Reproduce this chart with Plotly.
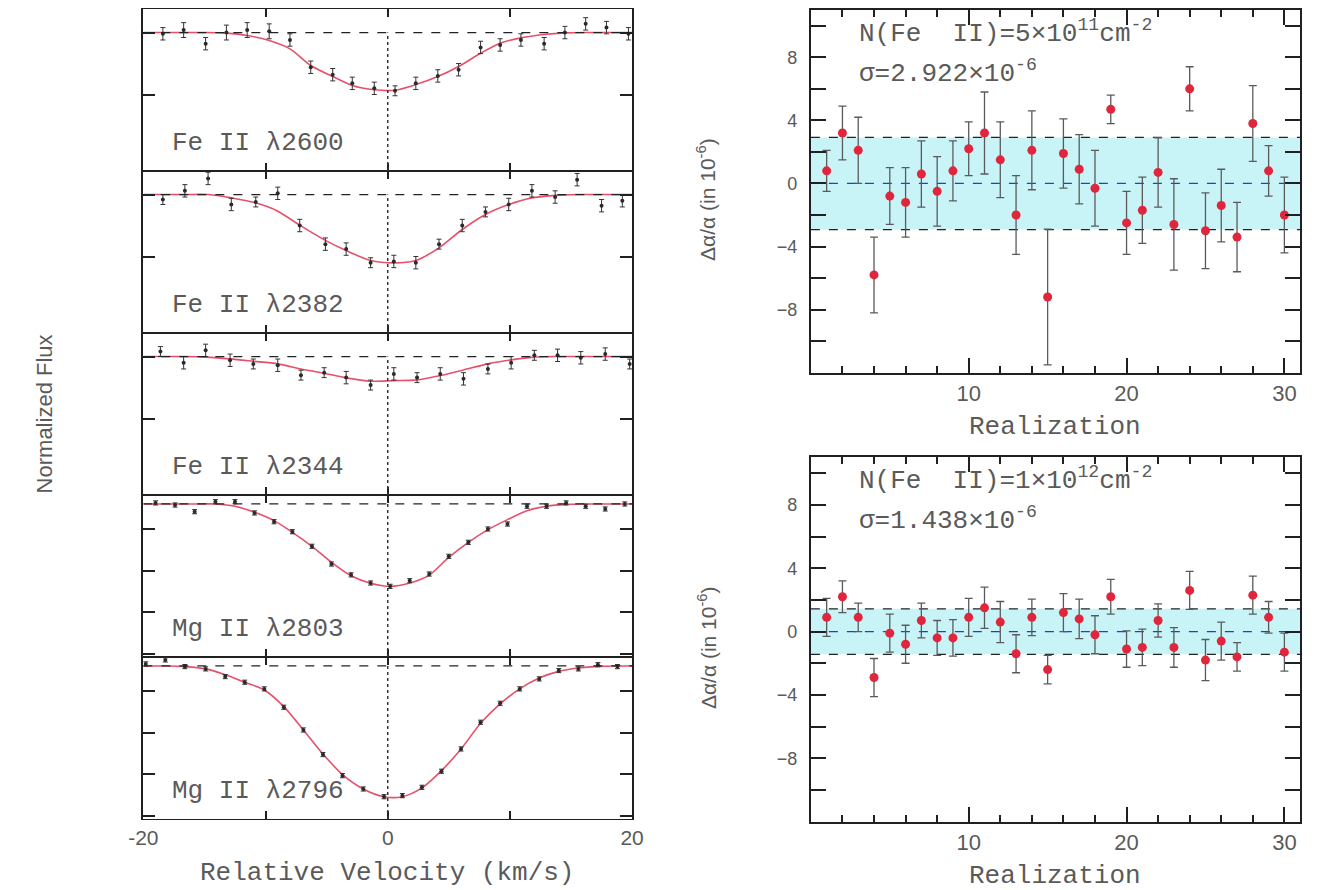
import plotly.graph_objects as go

W, H = 1320, 890

# ---------------- data: left column (normalized flux vs velocity) ----------------
vel_2600 = [-18.4, -16.7, -14.9, -13.2, -11.5, -9.7, -8.0, -6.3, -4.5, -2.9, -1.1, 0.6,
            2.3, 4.1, 5.8, 7.6, 9.2, 10.9, 12.8, 14.5, 16.2, 17.9, 19.7]
flux_2600 = [0.99, 1.02, 0.91, 1.00, 1.02, 1.01, 0.94, 0.72, 0.66, 0.59, 0.55, 0.53,
             0.59, 0.65, 0.70, 0.88, 0.90, 0.94, 0.91, 1.00, 1.07, 1.04, 0.99]
err_2600 = [0.05, 0.06, 0.05, 0.06, 0.06, 0.06, 0.05, 0.05, 0.05, 0.05, 0.05, 0.04,
            0.05, 0.05, 0.05, 0.05, 0.05, 0.05, 0.05, 0.05, 0.05, 0.05, 0.05]
model_2600 = [1.0, 1.0, 1.0, 0.995, 0.976, 0.935, 0.868, 0.734, 0.645, 0.573, 0.538, 0.535,
              0.58, 0.645, 0.726, 0.833, 0.914, 0.957, 0.984, 0.997, 1.0, 1.0, 1.0]

vel_2382 = [-18.4, -16.6, -14.7, -12.8, -10.8, -9.0, -7.2, -5.1, -3.4, -1.4, 0.5, 2.3,
            4.2, 6.1, 8.0, 9.9, 11.8, 13.7, 15.5, 17.5, 19.2]
flux_2382 = [0.96, 1.03, 1.13, 0.92, 0.94, 1.01, 0.75, 0.60, 0.56, 0.45, 0.46, 0.45,
             0.60, 0.75, 0.86, 0.92, 1.03, 0.98, 1.12, 0.91, 0.95]
err_2382 = [0.04, 0.05, 0.05, 0.05, 0.04, 0.05, 0.05, 0.05, 0.05, 0.04, 0.05, 0.05,
            0.04, 0.05, 0.04, 0.05, 0.05, 0.05, 0.05, 0.05, 0.05]
model_2382 = [1.0, 1.0, 1.0, 0.973, 0.933, 0.866, 0.753, 0.63, 0.548, 0.468, 0.449, 0.468,
              0.57, 0.718, 0.839, 0.919, 0.973, 0.992, 1.0, 1.0, 1.0]

vel_2344 = [-18.6, -16.7, -14.9, -12.9, -11.0, -9.0, -7.1, -5.2, -3.4, -1.4, 0.5, 2.4,
            4.3, 6.2, 8.2, 10.1, 12.0, 13.9, 15.8, 17.8, 19.8]
flux_2344 = [1.04, 0.95, 1.05, 0.97, 0.94, 0.93, 0.85, 0.87, 0.83, 0.77, 0.86, 0.83,
             0.86, 0.82, 0.90, 0.95, 1.01, 1.01, 0.99, 1.02, 0.94]
err_2344 = [0.04, 0.05, 0.05, 0.05, 0.04, 0.05, 0.04, 0.04, 0.05, 0.04, 0.05, 0.04,
            0.05, 0.05, 0.04, 0.05, 0.04, 0.05, 0.05, 0.05, 0.04]
model_2344 = [1.0, 1.0, 0.995, 0.981, 0.962, 0.941, 0.90, 0.865, 0.828, 0.801, 0.806, 0.812,
              0.847, 0.892, 0.941, 0.973, 0.995, 1.0, 1.0, 1.0, 1.0]

vel_2803 = [-19.0, -17.4, -15.8, -14.1, -12.5, -10.9, -9.3, -7.8, -6.2, -4.6, -3.0, -1.4,
            0.2, 1.8, 3.4, 5.0, 6.6, 8.2, 9.8, 11.4, 13.0, 14.6, 16.2, 17.8, 19.4]
flux_2803 = [1.005, 0.995, 0.963, 1.011, 1.011, 0.957, 0.915, 0.867, 0.797, 0.712, 0.66, 0.621,
             0.605, 0.632, 0.664, 0.749, 0.816, 0.88, 0.904, 0.989, 0.989, 1.005, 0.989, 0.976, 1.0]
err_2803 = [0.01] * 25
model_2803 = [1.0, 1.0, 1.0, 1.0, 0.989, 0.96, 0.92, 0.864, 0.797, 0.72, 0.656, 0.62,
              0.605, 0.621, 0.659, 0.744, 0.816, 0.877, 0.925, 0.968, 0.989, 0.998, 1.0, 1.0, 1.0]

vel_2796 = [-19.8, -18.2, -16.6, -14.9, -13.3, -11.7, -10.1, -8.5, -6.9, -5.3, -3.7, -2.0,
            -0.3, 1.2, 2.8, 4.4, 6.0, 7.6, 9.2, 10.8, 12.4, 14.0, 15.6, 17.2, 18.8]
flux_2796 = [1.01, 1.029, 0.997, 0.986, 0.949, 0.922, 0.89, 0.802, 0.693, 0.575, 0.474, 0.41,
             0.373, 0.378, 0.418, 0.495, 0.602, 0.73, 0.821, 0.89, 0.938, 0.978, 0.986, 1.006, 0.997]
err_2796 = [0.01] * 25
model_2796 = [1.0, 1.0, 0.997, 0.986, 0.958, 0.922, 0.885, 0.805, 0.693, 0.578, 0.479, 0.41,
              0.373, 0.373, 0.415, 0.498, 0.602, 0.725, 0.818, 0.89, 0.942, 0.974, 0.99, 0.998, 1.0]

line_labels = ["Fe II λ2600", "Fe II λ2382", "Fe II λ2344", "Mg II λ2803", "Mg II λ2796"]
continuum = 1.0
vel_limits = [-20, 20]

# ---------------- data: right column (Δα/α per realization) ----------------
realization = list(range(1, 31))
da_5e11 = [0.8, 3.2, 2.1, -5.8, -0.8, -1.2, 0.6, -0.5, 0.8, 2.2, 3.2, 1.5, -2.0, 2.1, -7.2,
           1.9, 0.9, -0.3, 4.7, -2.5, -1.7, 0.7, -2.6, 6.0, -3.0, -1.4, -3.4, 3.8, 0.8, -2.0]
err_5e11 = [1.3, 1.7, 2.1, 2.4, 1.8, 2.2, 2.1, 2.2, 1.9, 1.7, 2.6, 2.4, 2.5, 2.5, 4.3,
            2.2, 2.2, 2.4, 0.9, 2.0, 2.1, 2.2, 2.9, 1.4, 2.4, 2.3, 2.2, 2.4, 1.6, 2.4]
sigma_5e11 = 2.922

da_1e12 = [0.9, 2.2, 0.9, -2.9, -0.1, -0.8, 0.7, -0.4, -0.4, 0.9, 1.5, 0.6, -1.4, 0.9, -2.4,
           1.2, 0.8, -0.2, 2.2, -1.1, -1.0, 0.7, -1.0, 2.6, -1.8, -0.6, -1.6, 2.3, 0.9, -1.3]
err_1e12 = [1.2, 1.0, 0.9, 1.2, 1.2, 1.2, 1.1, 1.1, 1.15, 1.2, 1.3, 1.3, 1.2, 1.15, 0.9,
            1.2, 1.25, 1.2, 1.1, 1.15, 1.15, 1.05, 1.25, 1.2, 1.3, 1.2, 0.9, 1.2, 1.0, 1.2]
sigma_1e12 = 1.438
mean_shift = 0.0

realization_ticks = [0, 10, 20, 30]
realization_ticktext = ["", "10", "20", "30"]
da_ticks = [-8, -4, 0, 4, 8]

# ---------------- layout helpers ----------------
def fx(p):
    return p / W

def fy(p):
    return 1 - p / H

def axname(letter, k):
    return letter if k == 1 else f"{letter}{k}"

TXT = "#5a5a5a"
FRAME = "#202020"
MONO = "Liberation Mono, Courier New, monospace"
SANS = "Liberation Sans, Arial, sans-serif"

FE_RANGE = [-0.117, 1.19]
MG_RANGE = [0.266, 1.043]

fig = go.Figure()

left_data = [
    (vel_2600, flux_2600, err_2600, model_2600, "fe"),
    (vel_2382, flux_2382, err_2382, model_2382, "fe"),
    (vel_2344, flux_2344, err_2344, model_2344, "fe"),
    (vel_2803, flux_2803, err_2803, model_2803, "mg"),
    (vel_2796, flux_2796, err_2796, model_2796, "mg"),
]

shapes = []
annotations = []
layout_axes = {}

panel_top0, panel_h = 9, 162
for i, (vel, flux, err, model, kind) in enumerate(left_data):
    k = i + 1
    xa, ya = axname("x", k), axname("y", k)
    top = panel_top0 + panel_h * i
    bot = top + panel_h
    yr = FE_RANGE if kind == "fe" else MG_RANGE

    fig.add_trace(go.Scatter(
        x=[vel_limits[0]] + vel + [vel_limits[1]],
        y=[continuum] + model + [continuum],
        mode="lines", line=dict(color="#e8506a", width=1.6, shape="spline", smoothing=0.8),
        xaxis=xa, yaxis=ya, showlegend=False, hoverinfo="skip"))
    fig.add_trace(go.Scatter(
        x=vel, y=flux, mode="markers",
        marker=dict(color="#2a2a2a", size=4),
        error_y=dict(type="data", array=err, color="#333333", thickness=1, width=2.5),
        xaxis=xa, yaxis=ya, showlegend=False))

    shapes.append(dict(type="line", xref=xa, yref=ya, x0=vel_limits[0], x1=vel_limits[1],
                       y0=continuum, y1=continuum,
                       line=dict(color="#222", width=1.2, dash="dash"), layer="above"))
    shapes.append(dict(type="line", xref=xa, yref=ya, x0=0, x1=0, y0=yr[0], y1=continuum,
                       line=dict(color="#333", width=1.5, dash="dot"), layer="above"))

    annotations.append(dict(text=line_labels[i], xref=xa, yref=f"{ya} domain",
                            x=-17.8, y=1 - 134 / panel_h, xanchor="left", yanchor="middle",
                            showarrow=False, font=dict(family=MONO, size=26, color=TXT)))

    layout_axes[axname("xaxis", k)] = dict(
        domain=[fx(131), fx(630)], anchor=ya, range=vel_limits,
        tickvals=[-20, -10, 0, 10, 20], ticktext=["-20", "", "0", "", "20"],
        showticklabels=(k == 5), ticks="inside", ticklen=8, tickwidth=1.5, tickcolor=FRAME,
        showline=True, linecolor=FRAME, linewidth=1, mirror="ticks",
        showgrid=False, zeroline=False,
        tickfont=dict(family=SANS, size=21, color=TXT))
    tv = [0.5, 1.0] if kind == "fe" else [0.28, 0.48, 0.68, 0.88]
    layout_axes[axname("yaxis", k)] = dict(
        domain=[fy(bot), fy(top)], anchor=xa, range=yr, tickvals=tv,
        showticklabels=False, ticks="inside", ticklen=12, tickwidth=1.5, tickcolor=FRAME,
        showline=True, linecolor=FRAME, linewidth=1.5, mirror="ticks",
        showgrid=False, zeroline=False)

right_data = [
    (da_5e11, err_5e11, sigma_5e11, 10, 372.7,
     "N(Fe  II)=5×10<sup>11</sup>cm<sup>-2</sup>", "σ=2.922×10<sup>-6</sup>"),
    (da_1e12, err_1e12, sigma_1e12, 457.3, 821.7,
     "N(Fe  II)=1×10<sup>12</sup>cm<sup>-2</sup>", "σ=1.438×10<sup>-6</sup>"),
]
for j, (vals, errs, sig, top, bot, t1, t2) in enumerate(right_data):
    k = 6 + j
    xa, ya = f"x{k}", f"y{k}"
    shapes.append(dict(type="rect", xref=f"{xa} domain", yref=ya, x0=0, x1=1,
                       y0=mean_shift - sig, y1=mean_shift + sig,
                       fillcolor="rgb(200,244,248)", line=dict(width=0), layer="below"))
    for yy, col in [(mean_shift + sig, "#222"), (mean_shift - sig, "#222"), (mean_shift, "#2340c0")]:
        shapes.append(dict(type="line", xref=f"{xa} domain", yref=ya, x0=0, x1=1, y0=yy, y1=yy,
                           line=dict(color=col, width=1.3, dash="dash"), layer="below"))
    fig.add_trace(go.Scatter(
        x=realization, y=vals, mode="markers",
        marker=dict(color="#e0263c", size=9),
        error_y=dict(type="data", array=errs, color="#5a5a5a", thickness=1.3, width=4),
        xaxis=xa, yaxis=ya, showlegend=False))

    annotations.append(dict(text=t1, xref="paper", yref="paper", x=fx(860), y=fy(top + 22),
                            xanchor="left", yanchor="middle", showarrow=False,
                            font=dict(family=MONO, size=26, color=TXT)))
    annotations.append(dict(text=t2, xref="paper", yref="paper", x=fx(860), y=fy(top + 62),
                            xanchor="left", yanchor="middle", showarrow=False,
                            font=dict(family=MONO, size=26, color=TXT)))
    annotations.append(dict(text="Realization", xref="paper", yref="paper",
                            x=fx(1062), y=fy(bot + 54), xanchor="center", yanchor="middle",
                            showarrow=False, font=dict(family=MONO, size=26, color=TXT)))
    annotations.append(dict(text="Δα/α (in 10<sup>-6</sup>)", xref="paper", yref="paper",
                            x=fx(706), y=fy((top + bot) / 2 + 8), xanchor="center",
                            yanchor="middle", textangle=-90, showarrow=False,
                            font=dict(family=SANS, size=21, color=TXT)))

    layout_axes[f"xaxis{k}"] = dict(
        domain=[fx(812.5), fx(1312)], anchor=ya, range=[0, 31],
        tickmode="array", tickvals=realization_ticks, ticktext=realization_ticktext,
        ticks="inside", ticklen=15, tickwidth=1.5, tickcolor=FRAME,
        minor=dict(tickmode="linear", dtick=2, tick0=0, ticks="inside", ticklen=7,
                   tickwidth=1.5, tickcolor=FRAME),
        showline=True, linecolor=FRAME, linewidth=2, mirror="ticks",
        showgrid=False, zeroline=False,
        tickfont=dict(family=SANS, size=22, color=TXT))
    layout_axes[f"yaxis{k}"] = dict(
        domain=[fy(bot), fy(top)], anchor=xa, range=[-12, 11],
        tickmode="array", tickvals=da_ticks,
        ticks="inside", ticklen=15, tickwidth=1.5, tickcolor=FRAME,
        minor=dict(tickmode="linear", dtick=2, tick0=0, ticks="inside", ticklen=15,
                   tickwidth=1.5, tickcolor=FRAME),
        showline=True, linecolor=FRAME, linewidth=2, mirror="ticks",
        showgrid=False, zeroline=False, ticklabelstandoff=8,
        tickfont=dict(family=SANS, size=18, color=TXT))

annotations.append(dict(text="Relative Velocity (km/s)", xref="paper", yref="paper",
                        x=fx(380), y=fy(873), xanchor="center", yanchor="middle",
                        showarrow=False, font=dict(family=MONO, size=26, color=TXT)))
annotations.append(dict(text="Normalized Flux", xref="paper", yref="paper",
                        x=fx(30), y=fy(414), xanchor="center", yanchor="middle",
                        textangle=-90, showarrow=False,
                        font=dict(family=SANS, size=22, color=TXT)))

fig.update_layout(
    width=W, height=H, margin=dict(l=0, r=0, t=0, b=0),
    paper_bgcolor="white", plot_bgcolor="white",
    shapes=shapes, annotations=annotations, showlegend=False,
    **layout_axes)

fig.write_html("out.html")
